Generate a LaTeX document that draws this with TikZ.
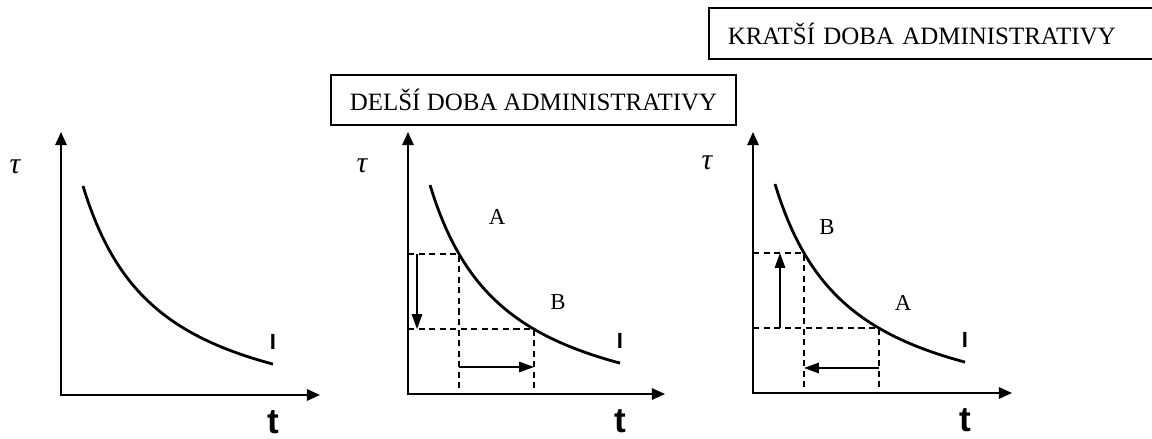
\documentclass[tikz,border=0pt]{standalone}
\usepackage{fontspec}
\setmainfont{Liberation Serif}
\setsansfont{Liberation Sans}
\usetikzlibrary{arrows.meta}
\tikzset{
  axisline/.style={line width=1.1pt,{Triangle[length=7.5pt,width=6.5pt]}-{Triangle[length=7.5pt,width=6.5pt]}},
  hypcurve/.style={line width=1.6pt},
  guide/.style={line width=0.8pt,dash pattern=on 3.5pt off 2.5pt},
  move/.style={line width=0.8pt,-{Triangle[length=8.5pt,width=6pt]}},
  boxlabel/.style={draw,line width=0.85pt,inner sep=0pt,font=\fontsize{14.2}{16}\selectfont},
  pointlbl/.style={font=\fontsize{13}{15}\selectfont},
  curvename/.style={font=\sffamily\bfseries\fontsize{12.5}{14}\selectfont},
  tlbl/.style={font=\sffamily\bfseries\fontsize{20}{22}\selectfont},
  taulbl/.style={font=\itshape\fontsize{17}{19}\selectfont}
}

\begin{document}
\begin{tikzpicture}[x=0.02cm,y=-0.02cm]
\useasboundingbox (0,0) rectangle (1152,439);
\clip (0,0) rectangle (1152,439);
% titles
\node[boxlabel,minimum width=8.1cm,minimum height=1cm] (longer) at (533.5,100) {DELŠÍ DOBA ADMINISTRATIVY};
\node[boxlabel,anchor=west,minimum height=1.02cm,inner xsep=0.38cm,text width=8.9cm,align=left] (shorter) at (708,33.5) {KRATŠÍ DOBA ADMINISTRATIVY};

% panel 1: plain curve
\begin{scope}[shift={(61,395)}]
\coordinate (o1) at (0,0);
\coordinate (y1) at (0,-263);
\coordinate (x1) at (259,0);
\draw[axisline] (y1) -- (o1) -- (x1);
\draw[hypcurve] plot[domain=22:212,samples=60] (\x,{40-100*(188.37/(\x+53.65))});
\node[taulbl] (tau1) at (-46,-228) {τ};
\node[curvename] (I1) at (212,-53) {I};
\node[tlbl] (t1) at (212,27) {t};
\end{scope}

% panel 2: longer administration, A -> B
\begin{scope}[shift={(408,394)}]
\coordinate (o2) at (0,0);
\coordinate (y2) at (0,-262);
\coordinate (x2) at (257,0);
\draw[axisline] (y2) -- (o2) -- (x2);
\draw[hypcurve] plot[domain=22:212,samples=60] (\x,{40-100*(188.37/(\x+53.65))});
\coordinate (A2) at (51,-140);
\coordinate (A2y) at (0,-140);
\coordinate (A2x) at (51,0);
\coordinate (B2) at (126,-64.9);
\coordinate (B2y) at (0,-64.9);
\coordinate (B2x) at (126,0);
\draw[guide] (A2y) -- (A2) -- (A2x);
\draw[guide] (B2y) -- (B2) -- (B2x);
% tau falls, t grows
\coordinate (d2a) at (9,-140);
\coordinate (d2b) at (9,-65);
\draw[move] (d2a) -- (d2b);
\coordinate (r2a) at (51,-27);
\coordinate (r2b) at (126,-27);
\draw[move] (r2a) -- (r2b);
\node[pointlbl] (lblA2) at (89,-177) {A};
\node[pointlbl] (lblB2) at (150,-92) {B};
\node[taulbl] (tau2) at (-46,-228) {τ};
\node[curvename] (I2) at (212,-53) {I};
\node[tlbl] (t2) at (212,27) {t};
\end{scope}

% panel 3: shorter administration, A -> B
\begin{scope}[shift={(753,393)}]
\coordinate (o3) at (0,0);
\coordinate (y3) at (0,-261);
\coordinate (x3) at (259,0);
\draw[axisline] (y3) -- (o3) -- (x3);
\draw[hypcurve] plot[domain=22:212,samples=60] (\x,{40-100*(188.37/(\x+53.65))});
\coordinate (B3) at (51,-140);
\coordinate (B3y) at (0,-140);
\coordinate (B3x) at (51,0);
\coordinate (A3) at (126,-64.9);
\coordinate (A3y) at (0,-64.9);
\coordinate (A3x) at (126,0);
\draw[guide] (B3y) -- (B3) -- (B3x);
\draw[guide] (A3y) -- (A3) -- (A3x);
% tau grows, t falls
\coordinate (u3a) at (27,-65);
\coordinate (u3b) at (27,-140);
\draw[move] (u3a) -- (u3b);
\coordinate (l3a) at (126,-25);
\coordinate (l3b) at (51,-25);
\draw[move] (l3a) -- (l3b);
\node[pointlbl] (lblB3) at (74,-166) {B};
\node[pointlbl] (lblA3) at (150,-90) {A};
\node[taulbl] (tau3) at (-46,-230) {τ};
\node[curvename] (I3) at (212,-53) {I};
\node[tlbl] (t3) at (212,27) {t};
\end{scope}
\end{tikzpicture}
\end{document}
